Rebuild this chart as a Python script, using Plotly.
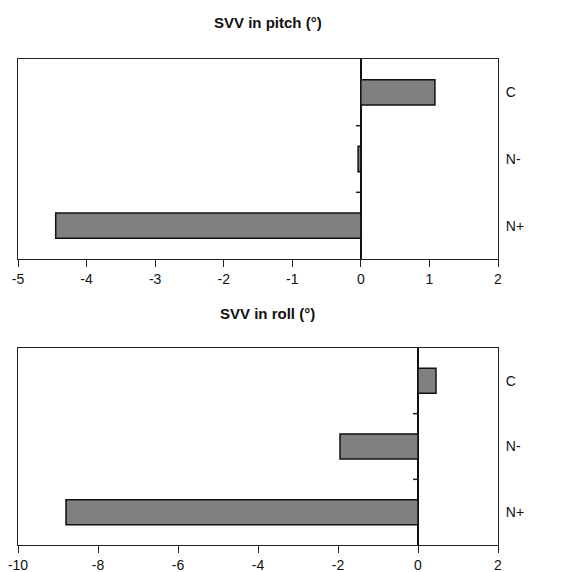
import plotly.graph_objects as go

categories = ["C", "N-", "N+"]
pitch_values = [1.08, -0.04, -4.45]
roll_values = [0.45, -1.95, -8.8]
pitch_ticks = [-5, -4, -3, -2, -1, 0, 1, 2]
roll_ticks = [-10, -8, -6, -4, -2, 0, 2]
titles = ["SVV in pitch (°)", "SVV in roll (°)"]

# page body has an 8px default margin; size the figure so the plot areas land in place
W, H = 558, 564
ml, mr, mt, mb = 10, 68, 51, 27
ph = H - mt - mb
# plot areas (page px): top 59..259, bottom 348..545
top_dom = [(545 - 259) / ph, 1.0]
bot_dom = [0.0, (545 - 348) / ph]

fig = go.Figure()
bar_style = dict(orientation="h", marker=dict(color="#808080", line=dict(color="#111111", width=1.5)),
                 showlegend=False, hoverinfo="x+y")
fig.add_trace(go.Bar(x=pitch_values, y=categories, xaxis="x", yaxis="y", **bar_style))
fig.add_trace(go.Bar(x=roll_values, y=categories, xaxis="x2", yaxis="y2", **bar_style))

font = dict(family="Liberation Sans, Arial, sans-serif", size=14, color="#111111")
xcommon = dict(showline=True, linecolor="#222222", linewidth=1, mirror=True, ticks="outside",
               ticklen=7, tickcolor="#222222", showgrid=False, zeroline=True,
               zerolinecolor="#111111", zerolinewidth=1.5, tickfont=font, fixedrange=True,
               automargin=False, ticklabeloverflow="allow")
ycommon = dict(showline=True, linecolor="#222222", linewidth=1, mirror=True, ticks="",
               side="right", showgrid=False, autorange="reversed", tickfont=font,
               ticklabelstandoff=4, type="category", automargin=False)

fig.update_layout(
    width=W, height=H,
    margin=dict(l=ml, r=mr, t=mt, b=mb),
    paper_bgcolor="white", plot_bgcolor="white",
    bargap=0.62,
    xaxis=dict(range=[pitch_ticks[0], pitch_ticks[-1]], tickvals=pitch_ticks,
               ticktext=[str(v) for v in pitch_ticks], anchor="y", **xcommon),
    yaxis=dict(domain=top_dom, anchor="x", **ycommon),
    xaxis2=dict(range=[roll_ticks[0], roll_ticks[-1]], tickvals=roll_ticks,
                ticktext=[str(v) for v in roll_ticks], anchor="y2", **xcommon),
    yaxis2=dict(domain=bot_dom, anchor="x2", **ycommon),
)

# small ticks on the zero line at category boundaries
for xr, yr in (("x", "y"), ("x2", "y2")):
    for b in (0.5, 1.5):
        fig.add_shape(type="line", xref=xr, yref=yr, xsizemode="pixel", xanchor=0,
                      x0=-5, x1=0, y0=b, y1=b, line=dict(color="#222222", width=1.5))

title_font = dict(family="Liberation Sans, Arial, sans-serif", size=15, color="#111111")
fig.add_annotation(text="<b>" + titles[0] + "</b>", xref="paper", yref="paper",
                   x=0.52, y=(545 - 23) / ph, showarrow=False, font=title_font, yanchor="middle")
fig.add_annotation(text="<b>" + titles[1] + "</b>", xref="paper", yref="paper",
                   x=0.52, y=(545 - 313) / ph, showarrow=False, font=title_font, yanchor="middle")

fig.write_html("out.html")
